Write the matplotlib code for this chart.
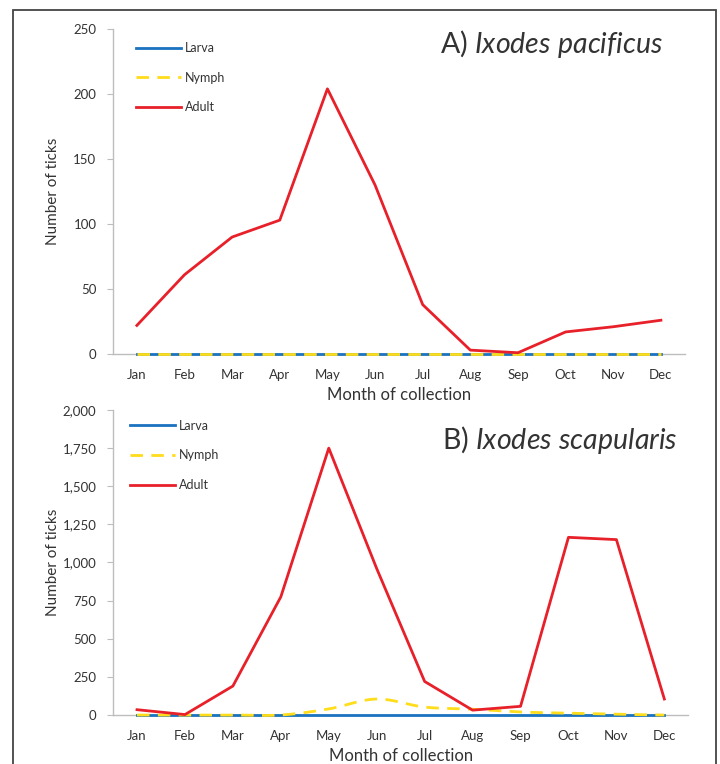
import numpy as np
import matplotlib.pyplot as plt
from matplotlib.patches import Rectangle

plt.rcParams['font.family'] = ['Lato', 'DejaVu Sans']
plt.rcParams['mathtext.fontset'] = 'custom'
plt.rcParams['mathtext.it'] = 'Lato:italic'
plt.rcParams['mathtext.rm'] = 'Lato'

months = ['Jan', 'Feb', 'Mar', 'Apr', 'May', 'Jun', 'Jul', 'Aug', 'Sep', 'Oct', 'Nov', 'Dec']

# A) Ixodes pacificus
pac_larva = [0, 0, 0, 0, 0, 0, 0, 0, 0, 0, 0, 0]
pac_nymph = [0, 0, 0, 0, 0, 0, 0, 0, 0, 0, 0, 0]
pac_adult = [22, 61, 90, 103, 204, 130, 38, 3, 1, 17, 21, 26]

# B) Ixodes scapularis
sca_larva = [0, 0, 0, 0, 0, 0, 0, 0, 0, 0, 0, 0]
sca_nymph = [0, 0, 0, 0, 40, 105, 52, 38, 20, 12, 5, 0]
sca_adult = [35, 3, 190, 775, 1750, 960, 220, 32, 57, 1165, 1150, 105]

BLUE = '#1a72c0'
YELLOW = '#ffdd1a'
RED = '#e8202a'
AXC = '#bdbdbd'
TXT = '#333333'
LW = 2.0


def smooth(y, n=16):
    # Catmull-Rom curve through the points (like Excel's smoothed line)
    y = np.asarray(y, float)
    x = np.arange(len(y), dtype=float)
    px = np.concatenate([[2 * x[0] - x[1]], x, [2 * x[-1] - x[-2]]])
    py = np.concatenate([[y[0]], y, [y[-1]]])
    xs, ys = [], []
    for i in range(1, len(px) - 2):
        t = np.linspace(0, 1, n, endpoint=False)
        for p, out in ((px, xs), (py, ys)):
            p0, p1, p2, p3 = p[i - 1], p[i], p[i + 1], p[i + 2]
            out.extend(0.5 * ((2 * p1) + (-p0 + p2) * t
                              + (2 * p0 - 5 * p1 + 4 * p2 - p3) * t ** 2
                              + (-p0 + 3 * p1 - 3 * p2 + p3) * t ** 3))
    xs.append(x[-1]); ys.append(y[-1])
    return np.array(xs), np.array(ys)


def panel(ax, larva, nymph, adult, ymax, ystep, title, title_pos, legend_anchor,
          smooth_nymph=False):
    x = np.arange(len(months))
    ax.plot(x, larva, color=BLUE, lw=LW, label='Larva', clip_on=False)
    if smooth_nymph:
        sx, sy = smooth(nymph)
        ax.plot(sx, sy, color=YELLOW, lw=LW, ls=(0, (4.5, 3)), label='Nymph', clip_on=False)
    else:
        ax.plot(x, nymph, color=YELLOW, lw=LW, ls=(0, (4.5, 3)), label='Nymph', clip_on=False)
    ax.plot(x, adult, color=RED, lw=LW, label='Adult', clip_on=False)

    ax.set_xlim(-0.5, len(months) - 0.5)
    ax.set_ylim(0, ymax)
    ax.set_xticks(x)
    ax.set_xticklabels(months)
    yt = np.arange(0, ymax + 1, ystep)
    ax.set_yticks(yt)
    ax.set_yticklabels([f'{v:,}' for v in yt])
    for s in ['top', 'right']:
        ax.spines[s].set_visible(False)
    for s in ['left', 'bottom']:
        ax.spines[s].set_color(AXC)
        ax.spines[s].set_linewidth(1.0)
        ax.spines[s].set_zorder(0)
    ax.tick_params(axis='y', length=4, color=AXC, labelsize=9.5, labelcolor=TXT, pad=8)
    ax.tick_params(axis='x', length=0, labelsize=9.5, labelcolor=TXT, pad=11)
    ax.set_xlabel('Month of collection', fontsize=12, color=TXT, labelpad=4)
    ax.set_ylabel('Number of ticks', fontsize=11, color=TXT)
    ax.yaxis.set_label_coords(-0.092, 0.5)
    ax.text(title_pos[0], title_pos[1], title, transform=ax.transAxes, ha='right',
            va='center', fontsize=20.5, color=TXT)
    ax.legend(loc='upper left', bbox_to_anchor=legend_anchor, frameon=False,
              fontsize=9, handlelength=3.6, handletextpad=0.3, labelspacing=1.42,
              labelcolor=TXT)


fig = plt.figure(figsize=(7.2, 7.64), dpi=100)
axA = fig.add_axes([0.157, 0.5366, 0.794, 0.4254])
axB = fig.add_axes([0.157, 0.0641, 0.799, 0.3993])

panel(axA, pac_larva, pac_nymph, pac_adult, 250, 50,
      r'A) $\mathit{Ixodes\ pacificus}$', (0.962, 0.953), (0.02, 0.995))
panel(axB, sca_larva, sca_nymph, sca_adult, 2000, 250,
      r'B) $\mathit{Ixodes\ scapularis}$', (0.981, 0.902), (0.01, 1.005),
      smooth_nymph=True)

fig.patches.append(Rectangle((13 / 720, -0.1), 703 / 720, 1 - 10 / 764 + 0.1,
                             transform=fig.transFigure, fill=False,
                             edgecolor='#444444', lw=1.3, clip_on=False))

fig.savefig('out.png', dpi=100)
